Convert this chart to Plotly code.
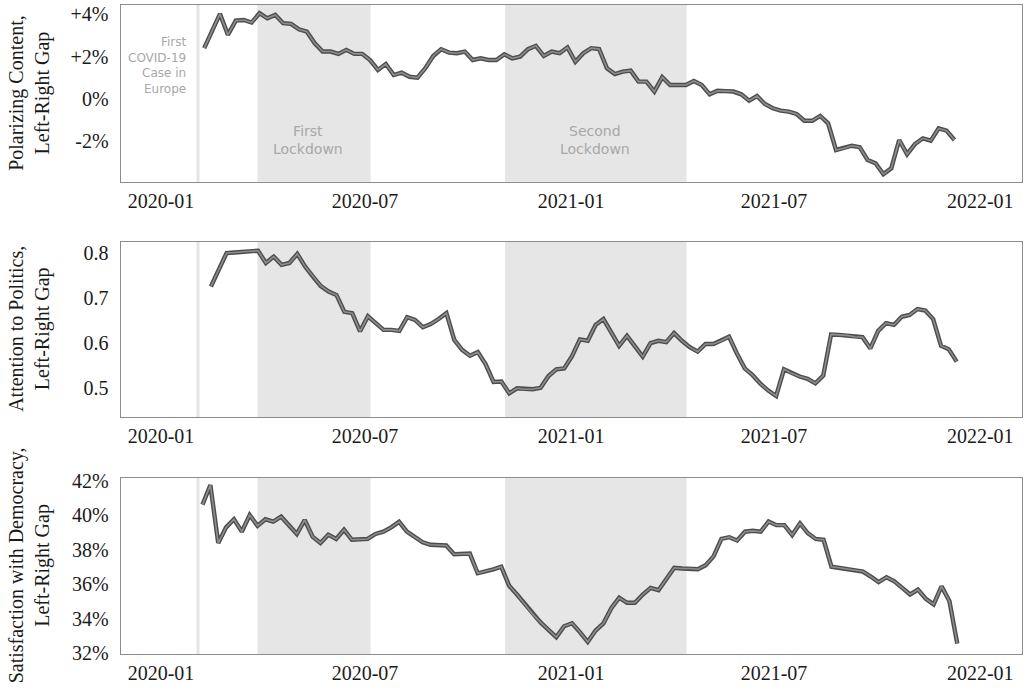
import pandas as pd
import plotly.graph_objects as go
from plotly.subplots import make_subplots

# ---------------- data ----------------
polar_start, polar_end = "2020-02-08 12:00", "2021-12-09"
polar_vals = [2.40, 3.18, 4.02, 3.03, 3.70, 3.73, 3.61, 4.05, 3.81, 3.97,
              3.58, 3.55, 3.29, 3.18, 2.63, 2.24, 2.24, 2.13, 2.32, 2.13,
              2.13, 1.84, 1.37, 1.65, 1.13, 1.24, 1.05, 1.01, 1.45, 2.03,
              2.35, 2.19, 2.16, 2.24, 1.84, 1.92, 1.84, 1.84, 2.11, 1.92,
              2.00, 2.35, 2.51, 2.03, 2.24, 2.16, 2.43, 1.76, 2.16, 2.40,
              2.36, 1.45, 1.18, 1.29, 1.34, 0.82, 0.82, 0.35, 1.03, 0.66,
              0.66, 0.66, 0.85, 0.66, 0.22, 0.39, 0.37, 0.35, 0.22, -0.08,
              0.14, -0.24, -0.44, -0.55, -0.60, -0.71, -1.03, -1.03, -0.80, -1.15,
              -2.41, -2.33, -2.21, -2.28, -2.88, -3.04, -3.55, -3.28, -1.94, -2.61,
              -2.13, -1.86, -1.97, -1.39, -1.50, -1.94]

attn_start, attn_end = "2020-02-14 12:00", "2021-12-11"
attn_vals = [0.725, 0.762, 0.799, 0.800, 0.802, 0.803, 0.804, 0.777, 0.791, 0.773,
             0.777, 0.797, 0.769, 0.747, 0.726, 0.714, 0.706, 0.669, 0.666, 0.626,
             0.659, 0.644, 0.629, 0.629, 0.627, 0.657, 0.651, 0.635, 0.642, 0.653,
             0.666, 0.607, 0.585, 0.572, 0.580, 0.553, 0.514, 0.515,
             0.489, 0.500, 0.498, 0.498, 0.501, 0.527, 0.542, 0.544, 0.571, 0.608,
             0.605, 0.640, 0.653, 0.623, 0.594, 0.616, 0.594, 0.570, 0.600, 0.605,
             0.602, 0.622, 0.605, 0.591, 0.581, 0.598, 0.598, 0.605, 0.614, 0.577,
             0.544, 0.529, 0.510, 0.495, 0.483, 0.542, 0.533, 0.526, 0.521, 0.511,
             0.528, 0.619, 0.618, 0.617, 0.614, 0.613, 0.588, 0.627, 0.644, 0.640,
             0.658, 0.662, 0.675, 0.672, 0.653, 0.594, 0.586, 0.559]

satis_start, satis_end = "2020-02-07", "2021-12-11 12:00"
satis_vals = [40.63, 41.77, 38.40, 39.31, 39.78, 39.06, 40.03, 39.40, 39.78, 39.65,
              39.93, 39.40, 38.93, 39.74, 38.77, 38.41, 38.89, 38.64, 39.17, 38.59,
              38.60, 38.64, 38.93, 39.06, 39.31, 39.63, 39.06, 38.74, 38.45, 38.30,
              38.30, 38.26, 37.75, 37.79, 37.79, 36.65, 36.75, 36.88, 37.03,
              35.93, 35.42, 34.85, 34.28, 33.80, 33.37, 32.95, 33.58, 33.75, 33.24,
              32.67, 33.33, 33.75, 34.62, 35.23, 34.94, 34.94, 35.42, 35.80, 35.67,
              36.31, 36.97, 36.93, 36.93, 36.88, 37.12, 37.63, 38.64, 38.74, 38.55,
              39.06, 39.11, 39.06, 39.65, 39.44, 39.44, 38.87, 39.54, 38.97, 38.64,
              38.59, 37.03, 36.97, 36.89, 36.84, 36.75, 36.46, 36.14, 36.42, 36.18,
              35.80, 35.42, 35.70, 35.17, 34.85, 35.89, 35.04, 32.57]

y_titles = ["Polarizing Content,<br>Left-Right Gap",
            "Attention to Politics,<br>Left-Right Gap",
            "Satisfaction with Democracy,<br>Left-Right Gap"]

x_tickvals = ["2020-01-01", "2020-07-01", "2021-01-01", "2021-07-01", "2022-01-01"]
x_ticktext = ["2020-01", "2020-07", "2021-01", "2021-07", "2022-01"]
x_range = ["2019-11-26", "2022-02-07"]

polar_ticks = [-2, 0, 2, 4]
polar_ticktext = ["-2%", "0%", "+2%", "+4%"]
attn_ticks = [0.5, 0.6, 0.7, 0.8]
attn_ticktext = ["0.5", "0.6", "0.7", "0.8"]
satis_ticks = [32, 34, 36, 38, 40, 42]
satis_ticktext = ["32%", "34%", "36%", "38%", "40%", "42%"]

first_case = "2020-02-03"
lockdowns = [("2020-03-27", "2020-07-06"), ("2020-11-03", "2021-04-14")]
lockdown_labels = [("2020-05-11", "First<br>Lockdown"), ("2021-01-22", "Second<br>Lockdown")]

# ---------------- figure ----------------
W, H = 1029, 694
fig = make_subplots(rows=3, cols=1)

series = [
    (polar_start, polar_end, polar_vals, [-3.91, 4.44], polar_ticks, polar_ticktext),
    (attn_start, attn_end, attn_vals, [0.4365, 0.824], attn_ticks, attn_ticktext),
    (satis_start, satis_end, satis_vals, [31.97, 42.19], satis_ticks, satis_ticktext),
]
# panel pixel extents (top, bottom)
panels_px = [(5, 181.7), (241.7, 417), (477.7, 654)]
xdom = [120.7 / W, 1021.7 / W]

serif = "Liberation Serif, Times New Roman, serif"
sans = "DejaVu Sans, sans-serif"

for i, (s, e, vals, yr, tv, tt) in enumerate(series):
    r = i + 1
    dates = pd.date_range(s, e, periods=len(vals))
    fig.add_trace(go.Scatter(x=dates, y=vals, mode="lines",
                             line=dict(color="#4d4d4d", width=4.4),
                             hoverinfo="skip", showlegend=False), row=r, col=1)
    fig.add_trace(go.Scatter(x=dates, y=vals, mode="lines",
                             line=dict(color="#8e8e8e", width=1.6),
                             showlegend=False), row=r, col=1)
    top, bot = panels_px[i]
    ax = "" if i == 0 else str(r)
    fig.layout["xaxis" + ax].update(
        domain=xdom, range=x_range, tickvals=x_tickvals, ticktext=x_ticktext,
        showgrid=False, zeroline=False, ticks="", showline=True, mirror=True,
        linecolor="#8c8c8c", linewidth=1.3, automargin=False,
        tickfont=dict(family=serif, size=20, color="#1a1a1a"),
        ticklabelstandoff=1)
    fig.layout["yaxis" + ax].update(
        domain=[1 - bot / H, 1 - top / H], range=yr, tickvals=tv, ticktext=tt,
        showgrid=False, zeroline=False, ticks="", showline=True, mirror=True,
        linecolor="#8c8c8c", linewidth=1.3, automargin=False,
        tickfont=dict(family=serif, size=20, color="#1a1a1a"),
        ticklabelstandoff=7)
    xref = "x" if i == 0 else "x" + str(r)
    yd = ("y" if i == 0 else "y" + str(r)) + " domain"
    for (a, b) in lockdowns:
        fig.add_shape(type="rect", xref=xref, yref=yd, x0=a, x1=b, y0=0, y1=1,
                      fillcolor="#e6e6e6", line=dict(width=0), layer="below")
    fig.add_shape(type="line", xref=xref, yref=yd, x0=first_case, x1=first_case,
                  y0=0, y1=1, line=dict(color="#e4e4e4", width=3), layer="below")
    fig.add_annotation(text=y_titles[i], xref="paper", yref="paper",
                       x=29.5 / W, y=1 - (top + bot) / 2 / H, textangle=-90,
                       showarrow=False, xanchor="center", yanchor="middle",
                       font=dict(family=serif, size=20, color="#1a1a1a"))

# annotations in the top panel
fig.add_annotation(text="First<br>COVID-19<br>Case in<br>Europe", x="2020-01-25", y=1.58,
                   xref="x", yref="y", xanchor="right", yanchor="middle", align="right",
                   showarrow=False, font=dict(family=sans, size=12, color="#a8a8a8"))
for (d, txt) in lockdown_labels:
    fig.add_annotation(text=txt, x=d, y=-1.94, xref="x", yref="y",
                       xanchor="center", yanchor="middle", align="center",
                       showarrow=False, font=dict(family=sans, size=14, color="#a8a8a8"))

fig.update_layout(width=W, height=H, margin=dict(l=0, r=0, t=0, b=0),
                  plot_bgcolor="white", paper_bgcolor="white", showlegend=False)

fig.write_html("out.html")
